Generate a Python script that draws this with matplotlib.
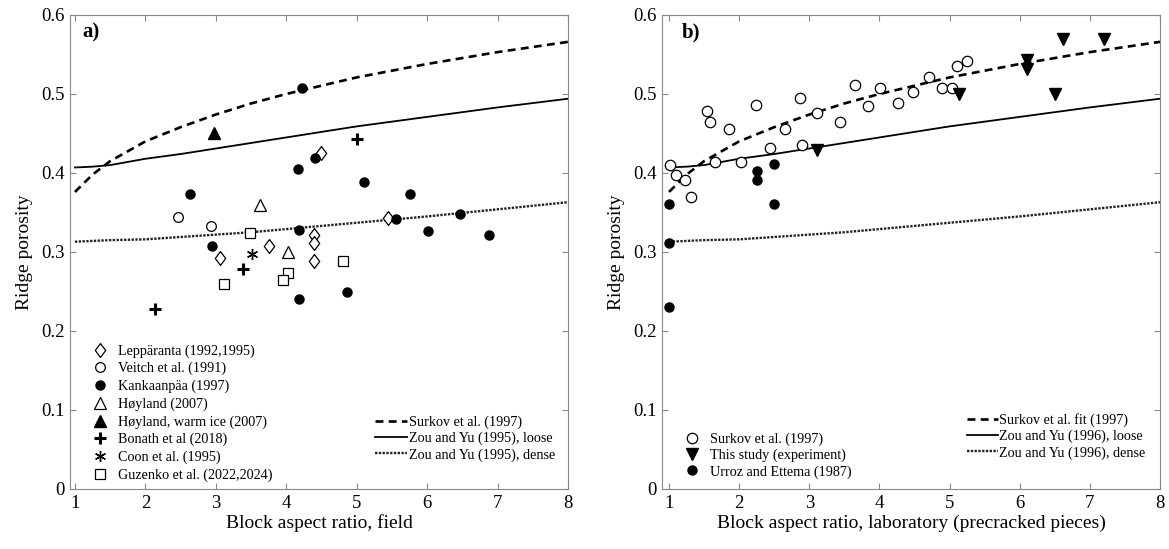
import matplotlib
matplotlib.use("Agg")
import matplotlib.pyplot as plt
from matplotlib.lines import Line2D

plt.rcParams["font.family"] = ["Liberation Serif", "DejaVu Serif"]

# --- model curves ---
curve_x = [1.0, 1.25, 1.5, 2.0, 2.5, 3.0, 3.5, 4.0, 5.0, 6.0, 7.0, 8.0]
surkov_y = [0.376, 0.398, 0.415, 0.440, 0.458, 0.474, 0.488, 0.500, 0.521, 0.538, 0.553, 0.566]
loose_y = [0.407, 0.408, 0.410, 0.418, 0.424, 0.431, 0.438, 0.445, 0.459, 0.471, 0.483, 0.494]
dense_y = [0.313, 0.314, 0.315, 0.316, 0.319, 0.322, 0.325, 0.329, 0.337, 0.345, 0.354, 0.363]

# --- panel a: field data ---
lepp_x = [4.50, 5.45, 4.39, 4.39, 4.39, 3.76, 3.06]
lepp_y = [0.425, 0.343, 0.322, 0.311, 0.289, 0.308, 0.293]
veitch_x = [2.47, 2.93]
veitch_y = [0.344, 0.333]
kank_x = [4.23, 4.41, 4.16, 5.10, 5.76, 2.63, 5.56, 6.47, 4.18, 6.01, 6.88, 2.94, 4.18, 4.86]
kank_y = [0.508, 0.419, 0.405, 0.388, 0.373, 0.373, 0.342, 0.348, 0.328, 0.326, 0.322, 0.308, 0.241, 0.249]
hoy_x = [3.63, 4.02]
hoy_y = [0.359, 0.300]
hoy_warm_x = [2.97]
hoy_warm_y = [0.450]
bonath_x = [5.00, 3.38, 2.13]
bonath_y = [0.443, 0.278, 0.228]
coon_x = [3.52]
coon_y = [0.298]
guz_x = [3.48, 4.81, 4.03, 3.96, 3.12]
guz_y = [0.324, 0.289, 0.274, 0.265, 0.259]

# --- panel b: laboratory data ---
surk_x = [1.01, 1.10, 1.23, 1.32, 1.54, 1.58, 1.65, 1.85, 2.02, 2.24, 2.44, 2.65, 2.87,
          2.89, 3.11, 3.44, 3.65, 3.83, 4.01, 4.27, 4.48, 4.71, 4.89, 5.03, 5.10, 5.25]
surk_y = [0.410, 0.397, 0.391, 0.369, 0.478, 0.465, 0.414, 0.456, 0.414, 0.486, 0.432, 0.456, 0.495,
          0.436, 0.476, 0.464, 0.512, 0.485, 0.508, 0.488, 0.502, 0.522, 0.508, 0.508, 0.535, 0.542]
study_x = [3.11, 5.13, 6.10, 6.10, 6.51, 6.62, 7.20]
study_y = [0.429, 0.500, 0.543, 0.531, 0.500, 0.570, 0.570]
urroz_x = [1.0, 1.0, 1.0, 2.26, 2.26, 2.50, 2.50]
urroz_y = [0.361, 0.311, 0.230, 0.402, 0.391, 0.411, 0.361]

diamond = [(0, 1), (0.75, 0), (0, -1), (-0.75, 0), (0, 1)]
dense_style = (0, (1, 0.6))
dash_style = (0, (3, 2))


def style_axes(ax, xlo):
    ax.set_xlim(xlo, 8)
    ax.set_ylim(0, 0.6)
    ax.set_xticks(range(1, 9))
    ax.set_yticks([0, 0.1, 0.2, 0.3, 0.4, 0.5, 0.6])
    ax.set_yticklabels(["0", "0.1", "0.2", "0.3", "0.4", "0.5", "0.6"])
    ax.tick_params(direction="in", top=True, right=True, labelsize=13.5,
                   color="#888888", length=4, pad=4)
    for s in ax.spines.values():
        s.set_color("#888888")
    ax.set_ylabel("Ridge porosity", fontsize=14, labelpad=6)


def draw_curves(ax):
    ax.plot(curve_x, surkov_y, color="black", lw=1.9, ls=dash_style)
    ax.plot(curve_x, loose_y, color="black", lw=1.3)
    ax.plot(curve_x, dense_y, color="#222222", lw=1.7, ls=dense_style)


fig = plt.figure(figsize=(11.69, 5.49), dpi=100)
ax1 = fig.add_axes([0.0599, 0.1093, 0.426, 0.8634])
ax2 = fig.add_axes([0.5663, 0.1093, 0.426, 0.8634])

# --- panel a ---
draw_curves(ax1)
ms = 6.5
dms = 10
ax1.plot(lepp_x, lepp_y, ls="none", marker=diamond, ms=dms, mfc="white", mec="black", mew=0.9)
ax1.plot(veitch_x, veitch_y, ls="none", marker="o", ms=ms + 0.5, mfc="white", mec="black", mew=0.9)
ax1.plot(kank_x, kank_y, ls="none", marker="o", ms=ms, mfc="black", mec="black")
ax1.plot(hoy_x, hoy_y, ls="none", marker="^", ms=ms + 1.5, mfc="white", mec="black", mew=0.9)
ax1.plot(hoy_warm_x, hoy_warm_y, ls="none", marker="^", ms=ms + 1.5, mfc="black", mec="black")
ax1.plot(bonath_x, bonath_y, ls="none", marker="+", ms=ms + 2, mec="black", mew=2.2)
ax1.plot(coon_x, coon_y, ls="none", marker=(6, 2, 0), ms=ms + 1.5, mec="black", mew=1.0)
ax1.plot(guz_x, guz_y, ls="none", marker="s", ms=ms, mfc="white", mec="black", mew=0.9)
style_axes(ax1, 0.93)
ax1.set_xlabel("Block aspect ratio, field", fontsize=14, labelpad=2)
ax1.text(0.024, 0.985, "a)", transform=ax1.transAxes, fontsize=15, fontweight="bold",
         va="top", ha="left")

h_a = [
    Line2D([], [], ls="none", marker=diamond, ms=dms, mfc="white", mec="black", mew=0.9),
    Line2D([], [], ls="none", marker="o", ms=ms + 0.5, mfc="white", mec="black", mew=0.9),
    Line2D([], [], ls="none", marker="o", ms=ms, mfc="black", mec="black"),
    Line2D([], [], ls="none", marker="^", ms=ms + 1.5, mfc="white", mec="black", mew=0.9),
    Line2D([], [], ls="none", marker="^", ms=ms + 1.5, mfc="black", mec="black"),
    Line2D([], [], ls="none", marker="+", ms=ms + 2, mec="black", mew=2.2),
    Line2D([], [], ls="none", marker=(6, 2, 0), ms=ms + 1.5, mec="black", mew=1.0),
    Line2D([], [], ls="none", marker="s", ms=ms, mfc="white", mec="black", mew=0.9),
]
lab_a = ["Leppäranta (1992,1995)", "Veitch et al. (1991)", "Kankaanpäa (1997)",
         "Høyland (2007)", "Høyland, warm ice (2007)", "Bonath et al (2018)",
         "Coon et al. (1995)", "Guzenko et al. (2022,2024)"]
leg1 = ax1.legend(h_a, lab_a, loc="lower left", bbox_to_anchor=(0.046, 0.015), frameon=False,
                  fontsize=10.2, handlelength=1.0, handletextpad=0.8, labelspacing=0.3,
                  borderpad=0, borderaxespad=0)
ax1.add_artist(leg1)

h_lines = [
    Line2D([], [], color="black", lw=1.9, ls=dash_style),
    Line2D([], [], color="black", lw=1.3),
    Line2D([], [], color="#222222", lw=1.7, ls=dense_style),
]
ax1.legend(h_lines, ["Surkov et al. (1997)", "Zou and Yu (1995), loose", "Zou and Yu (1995), dense"],
           loc="lower left", bbox_to_anchor=(0.612, 0.058), frameon=False, fontsize=10.2,
           handlelength=2.3, handletextpad=0.1, labelspacing=0.2, borderpad=0, borderaxespad=0)

# --- panel b ---
draw_curves(ax2)
ax2.plot(surk_x, surk_y, ls="none", marker="o", ms=ms + 1, mfc="white", mec="black", mew=0.9)
ax2.plot(study_x, study_y, ls="none", marker="v", ms=ms + 2, mfc="black", mec="black")
ax2.plot(urroz_x, urroz_y, ls="none", marker="o", ms=ms, mfc="black", mec="black")
style_axes(ax2, 0.90)
ax2.set_xlabel("Block aspect ratio, laboratory (precracked pieces)", fontsize=14, labelpad=2)
ax2.text(0.04, 0.985, "b)", transform=ax2.transAxes, fontsize=15, fontweight="bold",
         va="top", ha="left")

h_b = [
    Line2D([], [], ls="none", marker="o", ms=ms + 1, mfc="white", mec="black", mew=0.9),
    Line2D([], [], ls="none", marker="v", ms=ms + 2, mfc="black", mec="black"),
    Line2D([], [], ls="none", marker="o", ms=ms, mfc="black", mec="black"),
]
leg2 = ax2.legend(h_b, ["Surkov et al. (1997)", "This study (experiment)", "Urroz and Ettema (1987)"],
                  loc="lower left", bbox_to_anchor=(0.046, 0.022), frameon=False, fontsize=10.2,
                  handlelength=1.0, handletextpad=0.8, labelspacing=0.2, borderpad=0,
                  borderaxespad=0)
ax2.add_artist(leg2)
ax2.legend(h_lines, ["Surkov et al. fit (1997)", "Zou and Yu (1996), loose", "Zou and Yu (1996), dense"],
           loc="lower left", bbox_to_anchor=(0.612, 0.062), frameon=False, fontsize=10.2,
           handlelength=2.2, handletextpad=0.1, labelspacing=0.2, borderpad=0, borderaxespad=0)

fig.savefig("out.png", dpi=100)
